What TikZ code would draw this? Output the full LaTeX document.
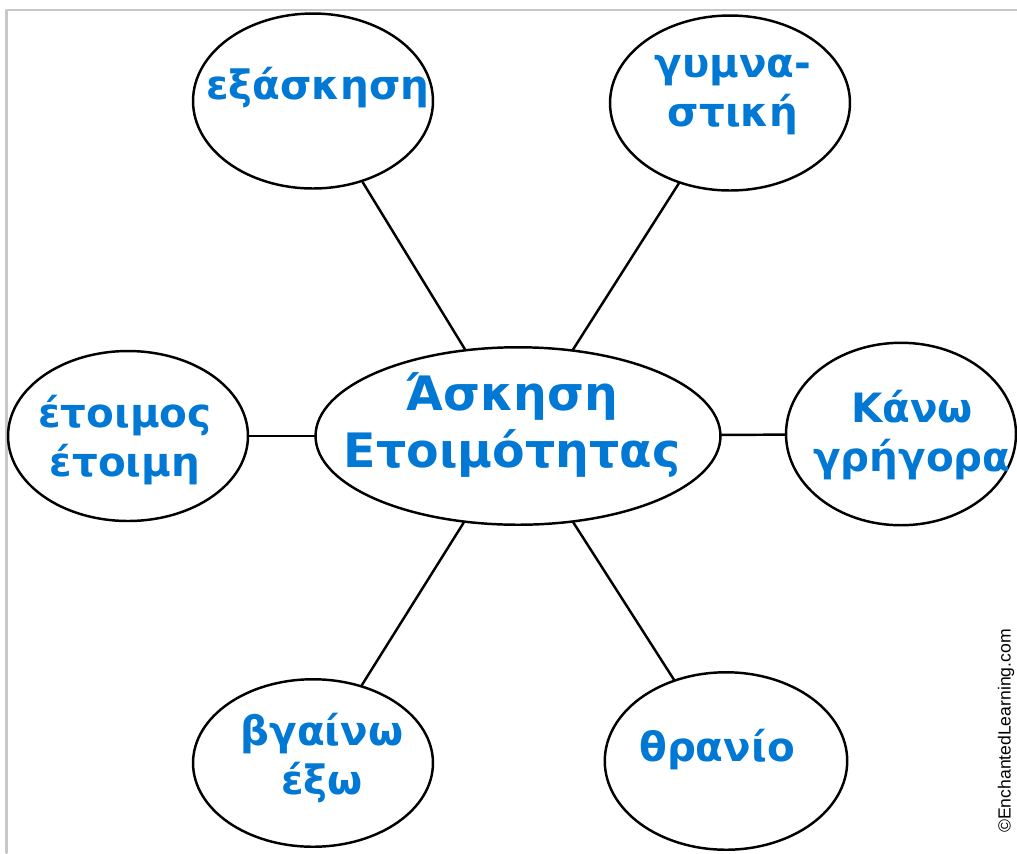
\documentclass[tikz,border=0pt]{standalone}
\usepackage{fontspec}
\setmainfont{DejaVu Sans}
\newfontfamily\credfont{Liberation Sans}
\usetikzlibrary{shapes.geometric}
\definecolor{pen}{RGB}{0,120,212}
\definecolor{framegray}{RGB}{200,200,200}
\tikzset{
  bubble/.style={ellipse,draw=black,line width=1.4pt,minimum width=4.8cm,minimum height=3.5cm,inner sep=0pt},
  hand/.style={text=pen,font=\bfseries\fontsize{23}{28}\selectfont,align=center,inner sep=0pt},
  spoke/.style={line width=1.4pt,black}
}
\begin{document}
\begin{tikzpicture}[x=0.02cm,y=-0.02cm,line join=round,line cap=round]
	\useasboundingbox (0,0) rectangle (1017,853);
	\draw[framegray,line width=1.2pt] (6.5,853)--(6.5,10)--(1017,10);
	% bubbles
	\node[bubble,minimum width=8.1cm,minimum height=3.55cm] (ask) at (518,436) {};
	\node[bubble] (exa) at (313,101) {};
	\node[bubble] (gym) at (730,103) {};
	\node[bubble,minimum height=3.4cm] (eto) at (128,436) {};
	\node[bubble,minimum width=4.6cm,minimum height=3.65cm] (kan) at (901,434) {};
	\node[bubble,minimum height=3.35cm] (vga) at (313,763) {};
	\node[bubble,minimum width=4.85cm,minimum height=3.55cm] (thr) at (726,761) {};
	% spokes
	\draw[spoke] (ask)--(exa);
	\draw[spoke] (ask)--(gym);
	\draw[spoke] (ask)--(eto);
	\draw[spoke] (ask)--(kan);
	\draw[spoke] (ask)--(vga);
	\draw[spoke] (ask)--(thr);
	% texts
	\node[hand,font=\bfseries\fontsize{27}{32}\selectfont] (ask-t) at (512,425) {Άσκηση\\Ετοιμότητας};
	\node[hand] (exa-t) at (318,88) {εξάσκηση};
	\node[hand] (gym-t) at (733,95) {γυμνα-\\στική};
	\node[hand] (eto-t) at (125,440) {έτοιμος\\έτοιμη};
	\node[hand] (kan-t) at (912,435) {Κάνω\\γρήγορα};
	\node[hand] (vga-t) at (322,758) {βγαίνω\\έξω};
	\node[hand] (thr-t) at (717,750) {θρανίο};
	\node[rotate=90,font=\credfont\fontsize{10}{12}\selectfont,inner sep=0pt] (cred) at (1006,731) {©EnchantedLearning.com};
\end{tikzpicture}
\end{document}
